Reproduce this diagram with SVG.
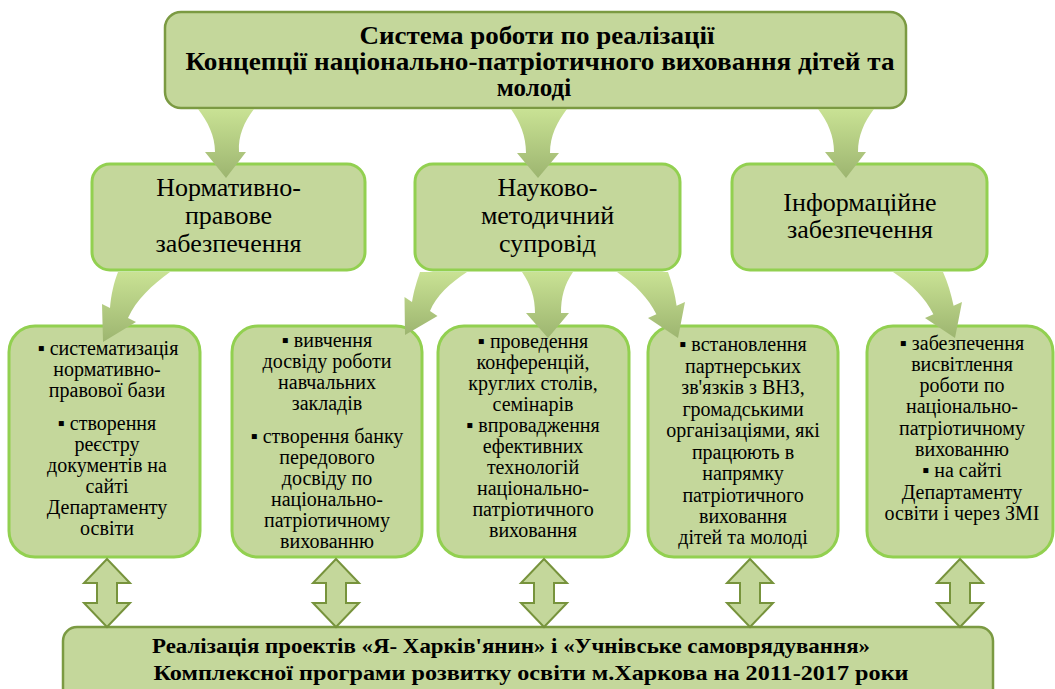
<svg xmlns="http://www.w3.org/2000/svg" width="1055" height="689" viewBox="0 0 1055 689">
<defs>
<linearGradient id="ag" x1="0" y1="0" x2="0" y2="1">
<stop offset="0" stop-color="#c9e294"/>
<stop offset="1" stop-color="#9db570"/>
</linearGradient>
<style>
.main{fill:#c4d79b;stroke:#7b9a42;stroke-width:2.5}
.mid{fill:#c4d79b;stroke:#92d050;stroke-width:3}
.arr{fill:url(#ag);stroke:none}
.dbl{fill:#c4d79b;stroke:#77933c;stroke-width:2}
text{font-family:'Liberation Serif','Tinos','Noto Serif','FreeSerif','Nimbus Roman','Times New Roman','Times','DejaVu Serif',serif;fill:#000;text-anchor:middle}
.tb{font-weight:bold}
.tm{font-size:26px}
.ts{font-size:20px}
</style>
</defs>
<rect width="1055" height="689" fill="#fff"/>

<g id="top">
<rect class="main" x="165" y="12" width="741" height="96" rx="16"/>
<text class="tb" font-size="25"><tspan x="537" y="44" textLength="355" lengthAdjust="spacingAndGlyphs">Система роботи по реалізації</tspan><tspan x="540" y="70" textLength="709" lengthAdjust="spacingAndGlyphs">Концепції національно-патріотичного виховання дітей та</tspan><tspan x="534" y="96">молоді</tspan></text>
</g>

<g id="m1">
<rect class="mid" x="92" y="164" width="273" height="106" rx="18"/>
<text class="tm"><tspan x="228.5" y="196">Нормативно-</tspan><tspan x="228.5" y="224">правове</tspan><tspan x="228.5" y="252">забезпечення</tspan></text>
</g>
<g id="m2">
<rect class="mid" x="415" y="164" width="265" height="106" rx="18"/>
<text class="tm"><tspan x="547.5" y="196">Науково-</tspan><tspan x="547.5" y="224">методичний</tspan><tspan x="547.5" y="252">супровід</tspan></text>
</g>
<g id="m3">
<rect class="mid" x="732" y="164" width="255" height="106" rx="18"/>
<text class="tm"><tspan x="860" y="211">Інформаційне</tspan><tspan x="860" y="238">забезпечення</tspan></text>
</g>

<g id="b1">
<rect class="mid" x="9" y="326" width="191" height="231" rx="26"/>
<text class="ts"><tspan x="108" y="355">▪ систематизація</tspan><tspan x="107" y="376">нормативно-</tspan><tspan x="107" y="397">правової бази</tspan><tspan x="107" y="430">▪ створення</tspan><tspan x="107" y="451">реєстру</tspan><tspan x="107" y="472">документів на</tspan><tspan x="107" y="493">сайті</tspan><tspan x="107" y="514">Департаменту</tspan><tspan x="107" y="535">освіти</tspan></text>
</g>
<g id="b2">
<rect class="mid" x="232" y="326" width="190" height="231" rx="26"/>
<text class="ts"><tspan x="327" y="347">▪ вивчення</tspan><tspan x="327" y="368">досвіду роботи</tspan><tspan x="327" y="389">навчальних</tspan><tspan x="327" y="410">закладів</tspan><tspan x="327" y="443">▪ створення банку</tspan><tspan x="327" y="464">передового</tspan><tspan x="327" y="485">досвіду по</tspan><tspan x="327" y="506">національно-</tspan><tspan x="327" y="527">патріотичному</tspan><tspan x="327" y="548">вихованню</tspan></text>
</g>
<g id="b3">
<rect class="mid" x="438" y="326" width="191" height="231" rx="26"/>
<text class="ts"><tspan x="533" y="348">▪ проведення</tspan><tspan x="533" y="369">конференцій,</tspan><tspan x="533" y="390">круглих столів,</tspan><tspan x="533" y="411">семінарів</tspan><tspan x="533" y="432">▪ впровадження</tspan><tspan x="533" y="453">ефективних</tspan><tspan x="533" y="474">технологій</tspan><tspan x="533" y="495">національно-</tspan><tspan x="533" y="516">патріотичного</tspan><tspan x="533" y="537">виховання</tspan></text>
</g>
<g id="b4">
<rect class="mid" x="648" y="326" width="190" height="231" rx="26"/>
<text class="ts"><tspan x="743" y="351">▪ встановлення</tspan><tspan x="743" y="373">партнерських</tspan><tspan x="743" y="394">зв'язків з ВНЗ,</tspan><tspan x="743" y="416">громадськими</tspan><tspan x="743" y="437">організаціями, які</tspan><tspan x="743" y="459">працюють в</tspan><tspan x="743" y="480">напрямку</tspan><tspan x="743" y="502">патріотичного</tspan><tspan x="743" y="523">виховання</tspan><tspan x="743" y="544">дітей та молоді</tspan></text>
</g>
<g id="b5">
<rect class="mid" x="867" y="326" width="186" height="231" rx="26"/>
<text class="ts"><tspan x="962" y="350">▪ забезпечення</tspan><tspan x="962" y="371">висвітлення</tspan><tspan x="962" y="392">роботи по</tspan><tspan x="962" y="413">національно-</tspan><tspan x="962" y="435">патріотичному</tspan><tspan x="962" y="456">вихованню</tspan><tspan x="962" y="477">▪  на сайті</tspan><tspan x="962" y="499">Департаменту</tspan><tspan x="962" y="520">освіти і через ЗМІ</tspan></text>
</g>

<g id="bottom">
<rect class="main" x="63" y="627" width="930" height="80" rx="14"/>
<text class="tb" font-size="22"><tspan x="511" y="653" textLength="718" lengthAdjust="spacingAndGlyphs">Реалізація проектів «Я- Харків'янин» і «Учнівське самоврядування»</tspan><tspan x="531" y="680" textLength="755" lengthAdjust="spacingAndGlyphs">Комплексної програми розвитку освіти м.Харкова на 2011-2017 роки</tspan></text>
</g>

<g id="connectors">
<path class="arr" d="M198,109 L254,109 C244,122 238,136 239,152 L246,152 L226,178 L205,152 L215,152 C215,136 208,122 198,109 Z"/>
<path class="arr" d="M511,109 L567,109 C557,122 550,136 550,153 L559,153 L538,178 L517,153 L526,153 C526,136 520,122 511,109 Z"/>
<path class="arr" d="M818,109 L874,109 C864,122 858,136 858,152 L866,152 L846,178 L825,152 L834,152 C834,136 828,122 818,109 Z"/>
<path class="arr" d="M118,272 L170,272 C152,285 136,300 128,318 L136,322 L103,342 L102,304 L110,308 C111,295 114,282 118,272 Z"/>
<path class="arr" d="M420,272 L467,272 C450,283 436,296 430,311 L437.5,316 L405,335 L404.5,297 L412,302 C414,290 417,281 420,272 Z"/>
<path class="arr" d="M522,272 L573,272 C564,285 561,298 561,313 L569,313 L548,338 L526,313 L535,313 C535,298 531,285 522,272 Z"/>
<path class="arr" d="M617,272 L668,272 C672,283 675,294 676.6,305.8 L685,302 L678,338 L648,318 L656.4,314.2 C648,298 636,285 617,272 Z"/>
<path class="arr" d="M893,272 L943,272 C948,283 951,294 953.6,305.8 L962,302 L955,338 L925,318 L933.4,314.2 C925,298 913,285 893,272 Z"/>
<path class="dbl" d="M107,559 L130,583 L117,583 L117,603 L130,603 L107,627 L84,603 L97,603 L97,583 L84,583 Z"/>
<path class="dbl" d="M336,559 L359,583 L346,583 L346,603 L359,603 L336,627 L313,603 L326,603 L326,583 L313,583 Z"/>
<path class="dbl" d="M544,559 L567,583 L554,583 L554,603 L567,603 L544,627 L521,603 L534,603 L534,583 L521,583 Z"/>
<path class="dbl" d="M750,559 L773,583 L760,583 L760,603 L773,603 L750,627 L727,603 L740,603 L740,583 L727,583 Z"/>
<path class="dbl" d="M960,559 L983,583 L970,583 L970,603 L983,603 L960,627 L937,603 L950,603 L950,583 L937,583 Z"/>
</g>
</svg>
